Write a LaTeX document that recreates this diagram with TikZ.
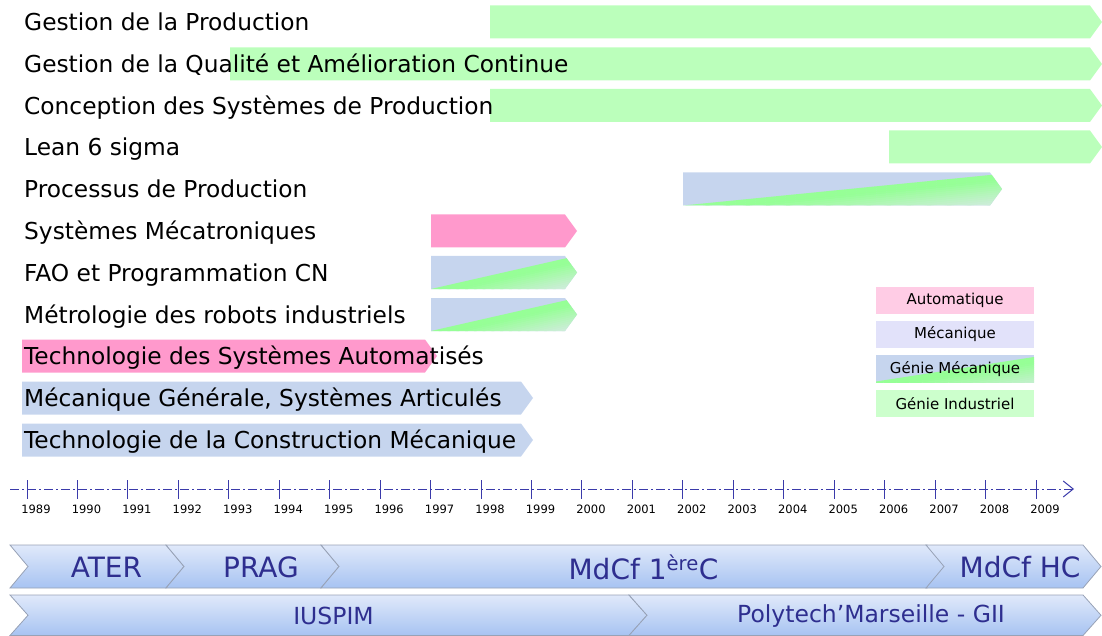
\documentclass[tikz,border=0pt]{standalone}
\usepackage{fontspec}
\setmainfont{DejaVu Sans}
\usepackage{tikz}
\usetikzlibrary{arrows.meta,positioning}

\definecolor{gigreen}{HTML}{BBFFBB}
\definecolor{autopink}{HTML}{FF99CC}
\definecolor{mecablue}{HTML}{C6D5EE}
\definecolor{fadegreen}{HTML}{96FF96}
\definecolor{fadepale}{HTML}{DDE8EC}
\definecolor{legpink}{HTML}{FFCCE5}
\definecolor{legmeca}{HTML}{E2E2FA}
\definecolor{leggreen}{HTML}{CCFFCC}
\definecolor{axisblue}{HTML}{3A3AAA}
\definecolor{chevtop}{HTML}{E0E9FA}
\definecolor{chevbot}{HTML}{A7C3F2}
\definecolor{chevline}{HTML}{98A2B6}
\definecolor{chevtext}{HTML}{2E2E8F}

% green fade below the line (x1,ybot)--(xr,ytop+2.5): x1, xr, ytop, ybot, xend
\newcommand{\fadeband}[5]{\foreach \a in {0,2,...,34} {
    \pgfmathsetmacro{\pct}{max(0,min(100,100-(\a-5)*3.3))}
    \fill[fadegreen!\pct!fadepale] (#1,#4+\a) -- (#5,{(#4)-((#4)-(#3)-2.5)*((#5)-(#1))/((#2)-(#1))+\a}) -- ++(0,2.4) -- (#1,#4+\a+2.4) -- cycle;}}
% arrow bars: start x, tip x, centre y, fill
\newcommand{\tbar}[4]{\fill[#4] (#1,#3-16.5) -- (#2-12,#3-16.5) -- (#2,#3) -- (#2-12,#3+16.5) -- (#1,#3+16.5) -- cycle;}
\newcommand{\tgbar}[3]{\tbar{#1}{#2}{#3}{mecablue}
  \begin{scope}
    \clip (#1,#3-16.5) -- (#2-12,#3-16.5) -- (#2,#3) -- (#2-12,#3+16.5) -- (#1,#3+16.5) -- cycle;
    \fadeband{#1}{#2-12}{#3-16.5}{#3+16.5}{#2}
  \end{scope}}
% chevrons: left x, tip x, top y, bottom y
\newcommand{\chev}[4]{\shade[chev] (#1,#3) -- (#2-18,#3) -- (#2,{(#3+#4)/2}) -- (#2-18,#4) -- (#1,#4) -- (#1+18,{(#3+#4)/2}) -- cycle;}

\begin{document}
\begin{tikzpicture}[x=1pt,y=-1pt,
  lab/.style={anchor=base west, inner sep=0pt, font=\fontsize{23.3}{27}\selectfont},
  legbox/.style={minimum width=158pt, minimum height=27pt, inner sep=0pt, font=\fontsize{15}{18}\selectfont},
  yearlab/.style={inner sep=0pt, font=\fontsize{11.5}{13}\selectfont},
  chev/.style={top color=chevtop, bottom color=chevbot, draw=chevline, line width=0.8pt},
  chevA/.style={text=chevtext, inner sep=0pt, font=\fontsize{28}{32}\selectfont},
  chevB/.style={text=chevtext, inner sep=0pt, font=\fontsize{23.5}{28}\selectfont},
  axisline/.style={axisblue, line width=1pt, dash pattern=on 9pt off 3pt on 2pt off 3pt, -{Straight Barb[length=10pt,width=16pt,line width=1pt]}}]
\useasboundingbox (0,0) rectangle (1102,636);

\tbar{490}{1102}{22}{gigreen}
\tbar{230}{1102}{64}{gigreen}
\tbar{490}{1102}{105.5}{gigreen}
\tbar{889}{1102}{147}{gigreen}
\tgbar{683}{1002}{189}
\tbar{431}{577}{231}{autopink}
\tgbar{431}{577}{272.5}
\tgbar{431}{577}{314.5}
\tbar{22}{437}{356}{autopink}
\tbar{22}{533}{398}{mecablue}
\tbar{22}{533}{440}{mecablue}

\foreach \i/\lab in {0/Gestion de la Production, 1/Gestion de la Qualité et Amélioration Continue,
  2/Conception des Systèmes de Production, 3/Lean 6 sigma, 4/Processus de Production,
  5/Systèmes Mécatroniques, 6/FAO et Programmation CN, 7/Métrologie des robots industriels,
  8/Technologie des Systèmes Automatisés, 9/{Mécanique Générale, Systèmes Articulés},
  10/Technologie de la Construction Mécanique}
  \node[lab] (lab\i) at (24,22+41.8*\i+8.5) {\lab};

\node[legbox, fill=legpink] (autom) at (955,300) {Automatique};
\node[legbox, fill=legmeca, below=7pt of autom] (meca) {Mécanique};
\node[legbox, fill=mecablue, below=7pt of meca] (gmeca) {};
\begin{scope}
  \clip (gmeca.south west) rectangle (gmeca.north east);
  \fadeband{876}{1034}{354.5}{381.5}{1034}
\end{scope}
\node[font=\fontsize{15}{18}\selectfont, inner sep=0pt] (gmecatxt) at (gmeca) {Génie Mécanique};
\node[legbox, fill=leggreen, below=7pt of gmeca] (gind) {Génie Industriel};

\coordinate (tlA) at (10,489);
\coordinate (tlB) at (1074,489);
\draw[axisline] (tlA) -- (tlB);
\foreach \yr [count=\i from 0] in {1989,...,2009} {
  \draw[axisblue, line width=1pt] (27+50.45*\i,480) -- (27+50.45*\i,498.5);
  \node[yearlab] (y\yr) at (36+50.45*\i,509) {\yr};
}

\chev{10}{184}{545}{588}
\chev{166}{339}{545}{588}
\chev{321}{945}{545}{588}
\chev{926}{1101}{545}{588}
\chev{10}{647}{595}{635.5}
\chev{629}{1101}{595}{635.5}
\node[chevA] (ater) at (106.5,567) {ATER};
\node[chevA] (prag) at (261,567) {PRAG};
\node[chevA] (mdcf) at (643.5,567) {MdCf 1\textsuperscript{ère}C};
\node[chevA] (mdcfhc) at (1020,567) {MdCf HC};
\node[chevB] (iuspim) at (333.5,616) {IUSPIM};
\node[chevB] (poly) at (871,616) {Polytech’Marseille - GII};
\end{tikzpicture}
\end{document}
